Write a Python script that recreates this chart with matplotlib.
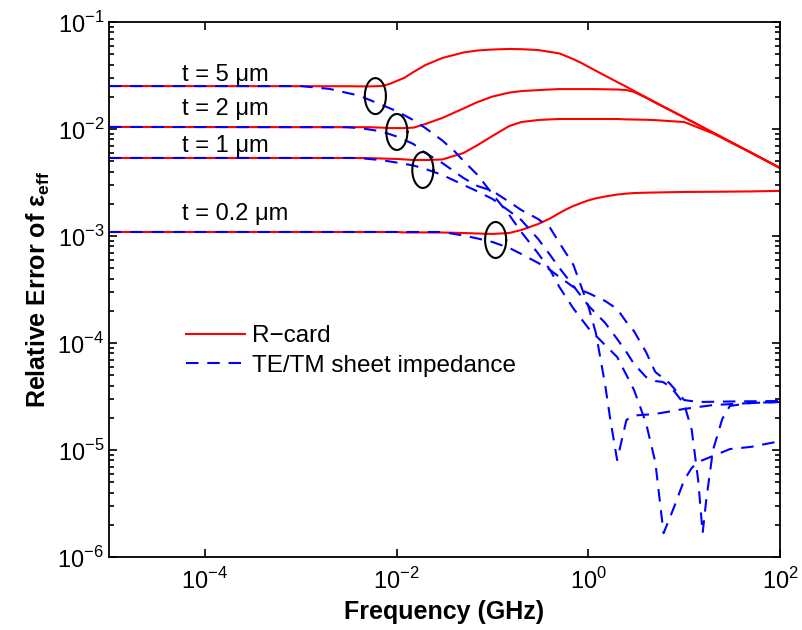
import numpy as np
import matplotlib
matplotlib.use('Agg')
import matplotlib.pyplot as plt
from matplotlib.ticker import LogLocator, NullLocator, FixedLocator, FuncFormatter

plt.rcParams['font.family'] = ['Liberation Sans', 'DejaVu Sans']
plt.rcParams['mathtext.fontset'] = 'custom'
plt.rcParams['mathtext.rm'] = 'Liberation Sans'
plt.rcParams['mathtext.bf'] = 'Liberation Sans:bold'

# ── R-card (red, solid): frequency in GHz, relative error
rc_f = [1e-5, 3e-3, 5e-3, 7e-3, 8.5e-3, 1e-2, 1.2e-2, 1.5e-2, 2e-2, 3e-2, 5e-2, 7e-2,
        0.1, 0.15, 0.2, 0.3, 0.4, 0.5, 0.6, 0.7, 0.85, 1, 1.2, 1.5, 2, 2.5, 3, 4, 5, 10,
        20, 50, 100]
rc_t5 = [0.0252, 0.0251, 0.0250, 0.0252, 0.0264, 0.0281, 0.0300, 0.0341, 0.0396, 0.0461,
         0.0519, 0.0542, 0.0553, 0.0560, 0.0557, 0.0547, 0.0525, 0.0508, 0.0476, 0.0449,
         0.0414, 0.0382, 0.0350, 0.0315, 0.0275, 0.0248, 0.0227, 0.0198, 0.0178, 0.01285,
         0.00927, 0.00601, 0.00433]
rc_t2 = [0.01045, 0.0104, 0.0104, 0.0103, 0.0102, 0.0102, 0.0102, 0.0103, 0.01114, 0.01268,
         0.01556, 0.01787, 0.0201, 0.0219, 0.0226, 0.0231, 0.0234, 0.0236, 0.0236, 0.0236,
         0.0236, 0.0236, 0.0236, 0.0235, 0.0234, 0.0231, 0.0222, 0.0196, 0.0176, 0.0128,
         0.00925, 0.0060, 0.00432]
rc_t1 = [0.00536, 0.00536, 0.00535, 0.0053, 0.00527, 0.00525, 0.0052, 0.00513, 0.00513,
         0.00519, 0.00597, 0.00708, 0.00861, 0.01067, 0.01162, 0.01213, 0.0123, 0.0124,
         0.0124, 0.0124, 0.0124, 0.0124, 0.0124, 0.0124, 0.0124, 0.0123, 0.01226, 0.0122,
         0.0121, 0.01162, 0.0091, 0.0060, 0.00432]
rc_t02 = [0.00109, 0.00109, 0.00109, 0.00109, 0.00109, 0.00109, 0.00108, 0.00108, 0.00108,
          0.001078, 0.001067, 0.001055, 0.001045, 0.001067, 0.001138, 0.001294, 0.00146,
          0.00164, 0.00179, 0.00191, 0.00204, 0.00215, 0.00225, 0.00234, 0.00244, 0.00249,
          0.00252, 0.00254, 0.00255, 0.00258, 0.00259, 0.00261, 0.00264]

# ── TE/TM sheet impedance (blue, dashed)
te_f_t5 = [1e-5, 1e-3, 2e-3, 3e-3, 4e-3, 5e-3, 7e-3, 1e-2, 1.5e-2, 2e-2, 3e-2, 4e-2, 5e-2,
           7e-2, 0.1, 0.15, 0.2, 0.3, 0.4, 0.5, 0.7, 1, 1.5, 2, 2.5, 3, 4, 5, 6.1, 7, 8,
           10, 12, 14, 20, 30, 50, 100]
te_t5 = [0.0252, 0.0252, 0.0237, 0.0218, 0.0206, 0.0190, 0.0168, 0.0147, 0.0121, 0.0102,
         0.00781, 0.00623, 0.00502, 0.00372, 0.00247, 0.00157, 0.00109, 6.86e-4, 4.81e-4,
         3.33e-4, 2.10e-4, 1.38e-4, 9.57e-5, 7.40e-5, 5.02e-5, 3.64e-5, 1.79e-5, 7.73e-6,
         1.67e-6, 2.26e-6, 3.06e-6, 5.24e-6, 6.79e-6, 7.73e-6, 8.79e-6, 1.02e-5, 1.07e-5,
         1.21e-5]

te_f_t2 = [1e-5, 3e-3, 4e-3, 5e-3, 7e-3, 1e-2, 1.5e-2, 2e-2, 3e-2, 4e-2, 5e-2, 7e-2, 0.1,
           0.15, 0.2, 0.3, 0.4, 0.5, 0.7, 1, 1.2, 1.5, 1.7, 2, 2.5, 3, 5, 10, 20, 50, 100]
te_t2 = [0.01045, 0.0104, 0.01021, 0.00995, 0.00948, 0.00851, 0.00724, 0.00597, 0.00481,
         0.00401, 0.00348, 0.00293, 0.00264, 0.00208, 0.00175, 0.00144, 0.00119, 8.61e-4,
         5.36e-4, 2.22e-4, 1.24e-4, 4.05e-5, 1.91e-5, 8.05e-6, 1.91e-5, 2.10e-5, 2.17e-5,
         2.42e-5, 2.63e-5, 2.75e-5, 2.81e-5]

te_f_t1 = [1e-5, 4e-3, 7e-3, 1e-2, 1.5e-2, 2e-2, 3e-2, 4e-2, 5e-2, 7e-2, 0.1, 0.15, 0.2,
           0.3, 0.4, 0.5, 0.7, 1, 1.5, 2, 2.5, 3, 4, 5, 6, 7, 8, 10, 12, 14, 15.6, 17, 20,
           25, 30, 50, 100]
te_t1 = [0.00536, 0.00536, 0.00511, 0.00486, 0.00456, 0.00423, 0.00372, 0.0033, 0.0030,
         0.00261, 0.00222, 0.00171, 0.00141, 9.37e-4, 6.64e-4, 5.02e-4, 3.41e-4, 2.24e-4,
         1.54e-4, 1.09e-4, 8.24e-5, 6.37e-5, 4.81e-5, 4.41e-5, 4.32e-5, 3.96e-5, 3.48e-5,
         2.69e-5, 1.54e-5, 5.24e-6, 1.67e-6, 3.41e-6, 1.0e-5, 1.95e-5, 2.58e-5, 2.75e-5,
         2.81e-5]

te_f_t02 = [1e-5, 3e-2, 5e-2, 7e-2, 0.1, 0.15, 0.2, 0.3, 0.4, 0.5, 0.7, 1, 1.5, 2, 2.5, 3,
            4, 5, 7, 10, 14, 30, 100]
te_t02 = [0.00109, 0.00109, 0.00101, 9.48e-4, 8.79e-4, 7.73e-4, 6.79e-4, 5.60e-4, 4.81e-4,
          4.14e-4, 3.33e-4, 2.93e-4, 2.47e-4, 2.08e-4, 1.57e-4, 1.29e-4, 8.24e-5, 5.36e-5,
          4.23e-5, 2.93e-5, 2.81e-5, 2.84e-5, 2.87e-5]

# ── ellipse marks (centre f, centre value) and labels
ell_f = [0.00601, 0.01007, 0.0188, 0.108]
ell_v = [0.0203, 0.00938, 0.00414, 0.000918]
lab_txt = ['t = 5 μm', 't = 2 μm', 't = 1 μm', 't = 0.2 μm']
lab_f = 5.8e-5
lab_v = [0.0281, 0.01352, 0.00614, 0.00141]

RED = '#ff0000'
BLUE = '#0000ff'

fig = plt.figure(figsize=(8.03, 6.3), dpi=100)
ax = fig.add_axes([109 / 803, 1 - 557 / 630, 671 / 803, 535 / 630])

for i, ys in enumerate([rc_t5, rc_t2, rc_t1, rc_t02]):
    ax.plot(rc_f, ys, color=RED, lw=1.5, label='R\u2212card' if i == 0 else None)

te = [(te_f_t5, te_t5), (te_f_t2, te_t2), (te_f_t1, te_t1), (te_f_t02, te_t02)]
for i, (fs, ys) in enumerate(te):
    ax.plot(fs, ys, color=BLUE, lw=1.5, dashes=(6, 4.2),
            label='TE/TM sheet impedance' if i == 0 else None)

th = np.linspace(0, 2 * np.pi, 120)
for fc, vc in zip(ell_f, ell_v):
    ax.plot(fc * 10 ** (0.11 * np.cos(th)), vc * 10 ** (0.168 * np.sin(th)),
            color='black', lw=1.5)

for txt, v in zip(lab_txt, lab_v):
    ax.text(lab_f, v, txt, fontsize=17, ha='left', va='baseline')

ax.set_xscale('log')
ax.set_yscale('log')
ax.set_xlim(1e-5, 1e2)
ax.set_ylim(1e-6, 1e-1)

ax.xaxis.set_major_locator(FixedLocator([1e-4, 1e-2, 1e0, 1e2]))
ax.xaxis.set_minor_locator(NullLocator())
ax.yaxis.set_major_locator(FixedLocator([1e-6, 1e-5, 1e-4, 1e-3, 1e-2, 1e-1]))
ax.yaxis.set_minor_locator(LogLocator(base=10, subs=np.arange(2, 10), numticks=20))
fmt = FuncFormatter(lambda v, p: r'$10^{%d}$' % int(round(np.log10(v))))
ax.xaxis.set_major_formatter(fmt)
ax.yaxis.set_major_formatter(fmt)

ax.tick_params(which='both', direction='in', top=True, right=True, labelsize=17,
               width=1.2)
ax.tick_params(which='major', length=6)
ax.tick_params(which='minor', length=3.5)
ax.tick_params(axis='x', pad=8)
for s in ax.spines.values():
    s.set_linewidth(1.3)

ax.set_xlabel('Frequency (GHz)', fontsize=18, fontweight='bold')
ax.set_ylabel(r'Relative Error of ε$_{\mathbf{eff}}$', fontsize=18, fontweight='bold')

ax.legend(loc='upper left', bbox_to_anchor=(0.09, 0.465), frameon=False, fontsize=17.5,
          handlelength=2.4, handletextpad=0.3, labelspacing=0.3, borderpad=0.2)

fig.savefig('out.png', dpi=100)
